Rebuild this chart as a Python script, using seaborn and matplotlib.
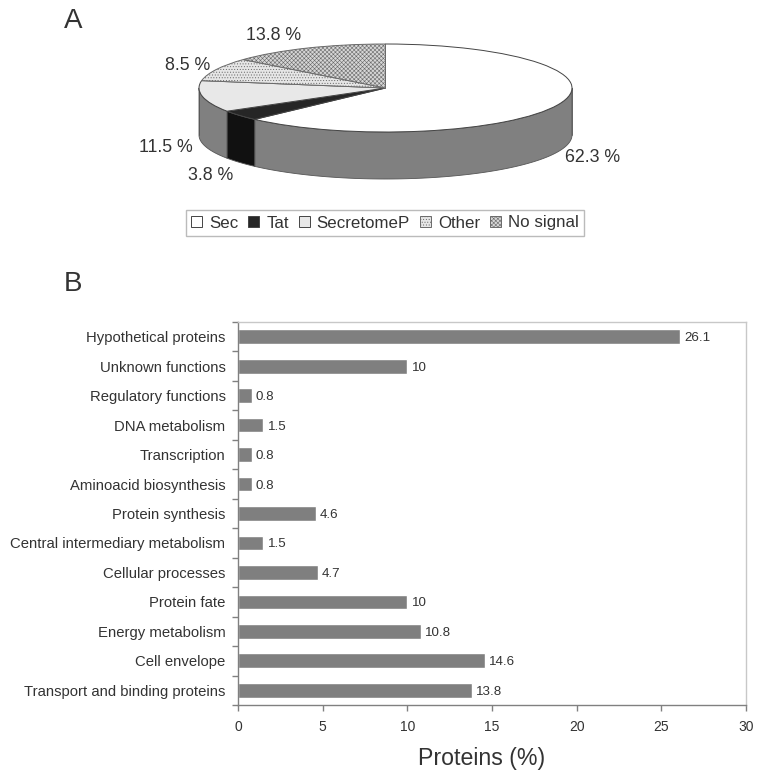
import matplotlib
matplotlib.use('Agg')
import matplotlib.pyplot as plt
import numpy as np
import pandas as pd
import seaborn as sns

signal_names = ['Sec', 'Tat', 'SecretomeP', 'Other', 'No signal']
signal_values = [62.3, 3.8, 11.5, 8.5, 13.8]
signal_labels = ['62.3 %', '3.8 %', '11.5 %', '8.5 %', '13.8 %']

categories = ['Hypothetical proteins', 'Unknown functions', 'Regulatory functions',
              'DNA metabolism', 'Transcription', 'Aminoacid biosynthesis',
              'Protein synthesis', 'Central intermediary metabolism',
              'Cellular processes', 'Protein fate', 'Energy metabolism',
              'Cell envelope', 'Transport and binding proteins']
proteins = [26.1, 10, 0.8, 1.5, 0.8, 0.8, 4.6, 1.5, 4.7, 10, 10.8, 14.6, 13.8]

W, H = 762, 781


def px_axes(fig, left, top, right, bottom):
    return fig.add_axes([left / W, 1 - bottom / H, (right - left) / W, (bottom - top) / H])


def px_text(fig, x, y, s, **kw):
    fig.text(x / W, 1 - y / H, s, va='center', color=text_col, **kw)


sns.set_theme(style='white')
plt.rcParams['font.family'] = ['Liberation Sans', 'DejaVu Sans']
plt.rcParams['hatch.linewidth'] = 0.4
text_col = '#333333'

fig = plt.figure(figsize=(W / 100, H / 100), dpi=100)

# pie, squashed to look 3D
depth = 47 / 44
ax1 = px_axes(fig, 199, 44, 572, 179)
colors = ['white', '#262626', '#e8e8e8', '#e6e6e6', '#d6d6d6']
hatches = [None, None, None, '......', 'xxxxxxxx']
wedges, _ = ax1.pie(signal_values, colors=colors, startangle=90, counterclock=False,
                    wedgeprops={'edgecolor': '#444444', 'linewidth': 0.7}, radius=1)
for w, h in zip(wedges, hatches):
    if h:
        w.set_hatch(h)
        w.set_edgecolor('#6a6a6a')
    w.set_zorder(3)
ax1.set_aspect('auto')
ax1.set_xlim(-1, 1)
ax1.set_ylim(-1 - depth, 1)
ax1.axis('off')

# side wall of the pie, lower half of the ellipse only
fractions = np.cumsum([0] + signal_values) / sum(signal_values)
for i in range(len(signal_values)):
    a0 = 90 - 360 * fractions[i]
    a1 = 90 - 360 * fractions[i + 1]
    th = np.radians(np.linspace(a0, a1, 300))
    th = th[np.sin(th) <= 0]
    if len(th) == 0:
        continue
    x, y = np.cos(th), np.sin(th)
    wall = '#111111' if signal_names[i] == 'Tat' else '#808080'
    ax1.fill(np.r_[x, x[::-1]], np.r_[y, y[::-1] - depth], facecolor=wall,
             edgecolor='#555555', linewidth=0.6, zorder=2, clip_on=False)
for sx in (-1, 1):
    ax1.plot([sx, sx], [0, -depth], color='#555555', lw=0.6, zorder=2, clip_on=False)

label_pos = [(565, 158), (188, 175), (139, 147), (165, 65), (246, 35)]
for (lx, ly), s in zip(label_pos, signal_labels):
    px_text(fig, lx, ly, s, fontsize=12.8, ha='left')

leg = fig.legend(wedges, signal_names, ncol=5, loc='center',
                 bbox_to_anchor=(385 / W, 1 - 223 / H), frameon=True, fancybox=False,
                 edgecolor='#bbbbbb', framealpha=1, fontsize=12.2, handlelength=0.65,
                 handleheight=0.65, handletextpad=0.4, columnspacing=0.6,
                 borderpad=0.3, borderaxespad=0, labelcolor=text_col)
leg.get_frame().set_linewidth(1)

px_text(fig, 64, 21, 'A', fontsize=20, ha='left')
px_text(fig, 64, 284, 'B', fontsize=20, ha='left')

# bars
ax2 = px_axes(fig, 238, 322, 746, 705)
df = pd.DataFrame({'category': categories, 'proteins': proteins})
sns.barplot(data=df, y='category', x='proteins', order=categories, orient='h',
            color='#7f7f7f', saturation=1, width=0.5, ax=ax2)
for t in ax2.bar_label(ax2.containers[0], fmt='%g', padding=3, fontsize=9.6, color=text_col):
    t.set_va('center_baseline')
ax2.set_xlim(0, 30)
ax2.set_ylim(12.5, -0.5)
ax2.set_xticks(range(0, 31, 5))
ax2.set_yticks(np.arange(-0.5, 13), minor=True)
ax2.set_ylabel('')
ax2.set_xlabel('Proteins (%)', fontsize=16.7, color=text_col, labelpad=9,
               x=(482 - 238) / 508)
ax2.tick_params(axis='x', length=4, width=1, color='#808080', labelsize=10,
                labelcolor=text_col, pad=7, bottom=True)
ax2.tick_params(axis='y', which='major', length=0, labelsize=10.7, labelcolor=text_col, pad=9)
ax2.tick_params(axis='y', which='minor', length=4, width=1, color='#808080', left=True)
for side in ('top', 'right'):
    ax2.spines[side].set_color('#c8c8c8')
for side in ('left', 'bottom'):
    ax2.spines[side].set_color('#808080')
for side in ax2.spines:
    ax2.spines[side].set_linewidth(1)

fig.savefig('out.png', dpi=100)
